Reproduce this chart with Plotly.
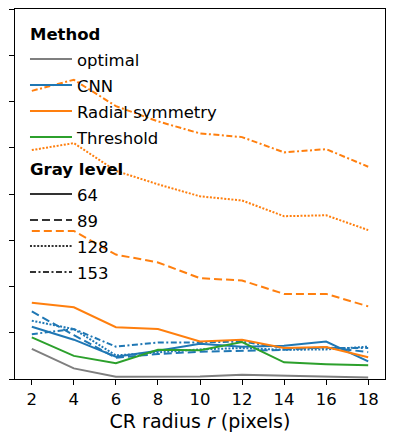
import plotly.graph_objects as go

r = [2, 4, 6, 8, 10, 12, 14, 16, 18]

optimal_64 = [0.65, 0.23, 0.05, 0.055, 0.055, 0.09, 0.065, 0.04, 0.03]
threshold_64 = [0.90, 0.50, 0.34, 0.63, 0.62, 0.80, 0.36, 0.32, 0.30]

cnn_64 = [1.13, 0.85, 0.48, 0.61, 0.76, 0.70, 0.72, 0.81, 0.38]
cnn_89 = [1.46, 0.95, 0.46, 0.54, 0.59, 0.61, 0.63, 0.69, 0.58]
cnn_128 = [1.26, 1.08, 0.51, 0.57, 0.64, 0.67, 0.63, 0.64, 0.70]
cnn_153 = [0.97, 1.08, 0.70, 0.79, 0.79, 0.81, 0.67, 0.67, 0.67]

rs_64 = [1.65, 1.55, 1.12, 1.08, 0.81, 0.85, 0.67, 0.69, 0.47]
rs_89 = [3.20, 3.20, 2.69, 2.52, 2.18, 2.13, 1.84, 1.84, 1.57]
rs_128 = [4.95, 5.10, 4.50, 4.21, 3.95, 3.86, 3.52, 3.54, 3.22]
rs_153 = [6.23, 6.47, 5.90, 5.57, 5.31, 5.23, 4.90, 4.97, 4.59]

methods = ["optimal", "CNN", "Radial symmetry", "Threshold"]
gray_levels = ["64", "89", "128", "153"]

colors = {"optimal": "#7f7f7f", "CNN": "#1f77b4",
          "Radial symmetry": "#ff7f0e", "Threshold": "#2ca02c"}
dashes = {"64": "solid", "89": "8px,4px", "128": "2px,1.6px",
          "153": "6px,2.5px,2px,2.5px"}

series = [
    ("optimal", "64", optimal_64),
    ("CNN", "64", cnn_64),
    ("CNN", "89", cnn_89),
    ("CNN", "128", cnn_128),
    ("CNN", "153", cnn_153),
    ("Radial symmetry", "64", rs_64),
    ("Radial symmetry", "89", rs_89),
    ("Radial symmetry", "128", rs_128),
    ("Radial symmetry", "153", rs_153),
    ("Threshold", "64", threshold_64),
]

TXT = 16.5


def lab(s):
    return f"<span style='font-size:{TXT}px'>{s}</span>"


fig = go.Figure()
for m, g, vals in series:
    fig.add_trace(go.Scatter(
        x=r, y=vals, mode="lines", showlegend=False,
        line=dict(color=colors[m], width=2, dash=dashes[g]),
    ))

for m in methods:
    fig.add_trace(go.Scatter(
        x=[None], y=[None], mode="lines", name=lab(m),
        legendgroup="method", legendgrouptitle_text="<b>" + lab("Method") + "</b>",
        line=dict(color=colors[m], width=2),
    ))
for g in gray_levels:
    fig.add_trace(go.Scatter(
        x=[None], y=[None], mode="lines", name=lab(g),
        legendgroup="gray", legendgrouptitle_text="<b>" + lab("Gray level") + "</b>",
        line=dict(color="#333333", width=2, dash=dashes[g]),
    ))

fig.update_layout(
    width=394, height=445,
    margin=dict(l=15, r=9, t=9, b=66),
    paper_bgcolor="white", plot_bgcolor="white",
    font=dict(family="DejaVu Sans", size=16.5, color="black"),
    legend=dict(
        x=0.027, y=0.984, xanchor="left", yanchor="top",
        bgcolor="rgba(0,0,0,0)", borderwidth=0,
        font=dict(size=17.7), tracegroupgap=5, itemwidth=42,
        groupclick="toggleitem",
        grouptitlefont=dict(size=17.7, color="black"),
    ),
    xaxis=dict(
        range=[1.2, 18.8], tickmode="array", tickvals=r,
        ticks="outside", ticklen=5, tickcolor="black", automargin=False,
        showline=True, linecolor="black", linewidth=1.2, mirror=True,
        showgrid=False, zeroline=False,
        tickfont=dict(size=16.5),
        title=dict(text="CR radius <i>r</i> (pixels)", font=dict(size=19), standoff=6),
    ),
    yaxis=dict(
        range=[0, 8], tickmode="array", tickvals=[0, 1, 2, 3, 4, 5, 6, 7, 8],
        ticks="outside", ticklen=5, tickcolor="black", showticklabels=False,
        showline=True, linecolor="black", linewidth=1.2, mirror=True,
        showgrid=False, zeroline=False, automargin=False,
    ),
)

fig.write_html("out.html", config={"displayModeBar": False},
               post_script="document.body.style.margin='0';")
